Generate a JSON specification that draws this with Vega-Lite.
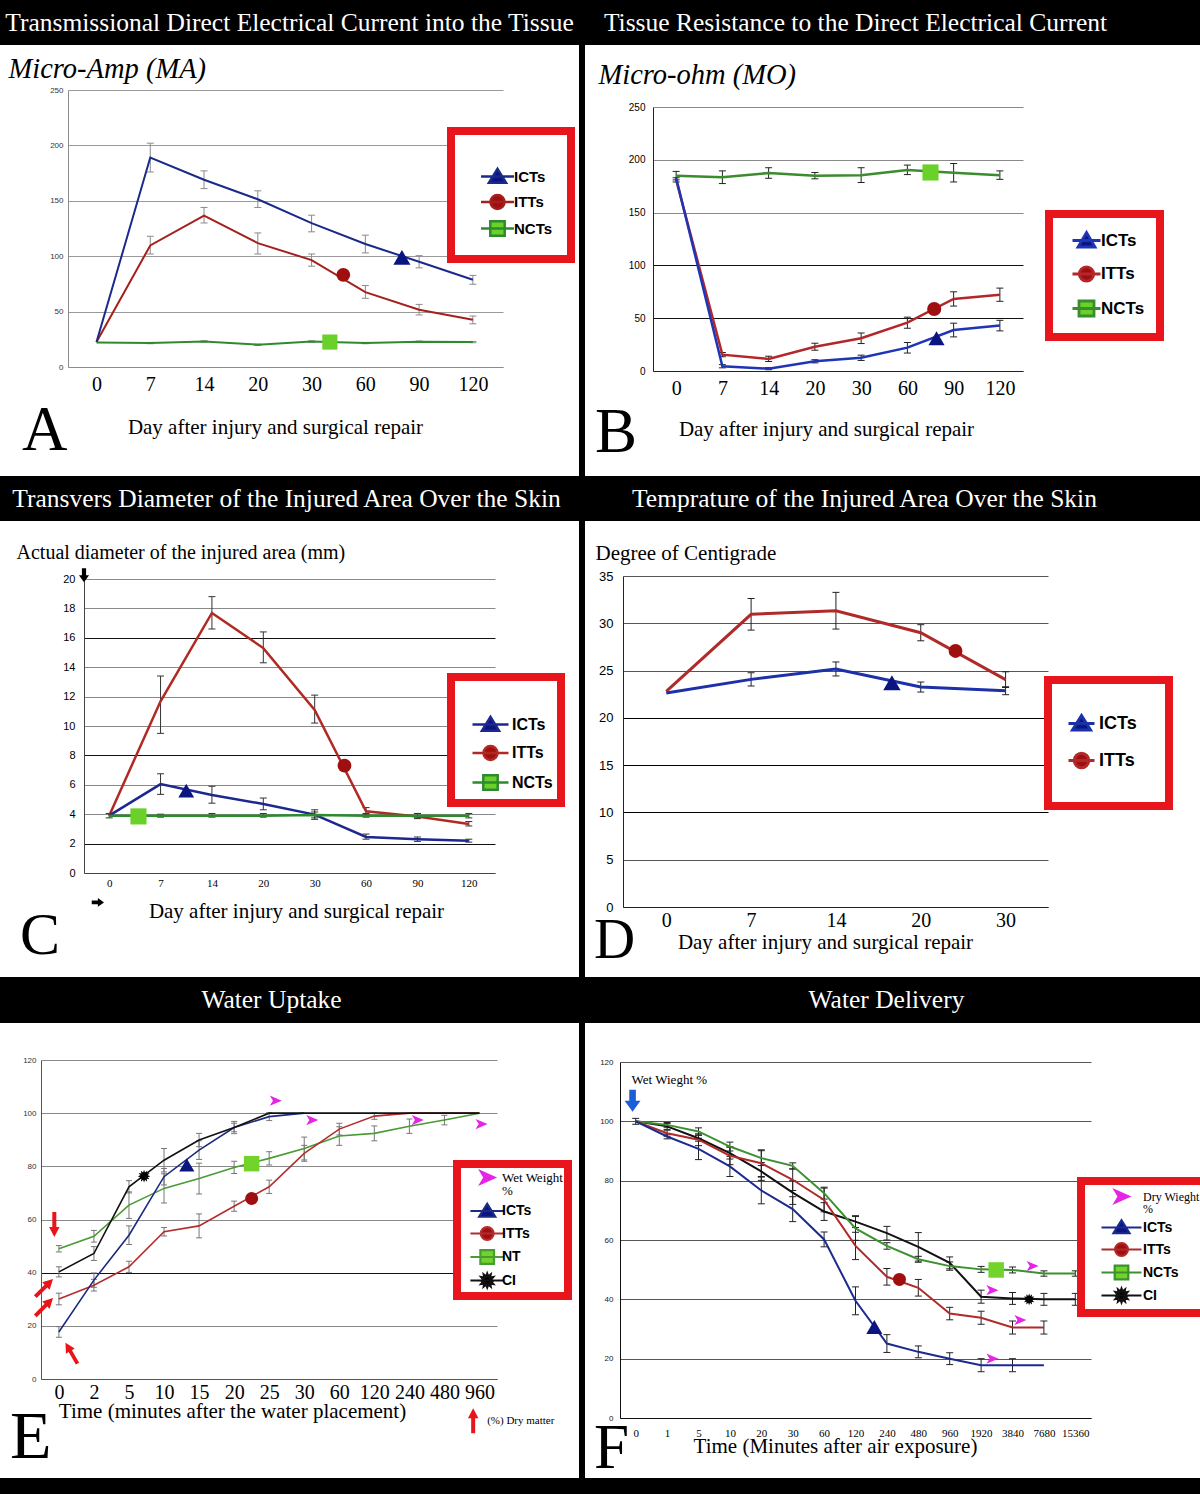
{
"$schema":"https://vega.github.io/schema/vega-lite/v6.json",
"background":"black",
"padding":{"left":0,"top":0,"right":0,"bottom":16},
"config":{"view":{"stroke":null},"axis":{"labelFlush":false,"labelOverlap":false},"legend":{"labelLimit":300}},
"datasets":{
"a":[
{"s":"ICTs","i":0,"v":22.5},{"s":"ICTs","i":1,"v":189,"lo":176,"hi":202},{"s":"ICTs","i":2,"v":169,"lo":161,"hi":177},{"s":"ICTs","i":3,"v":151.4,"lo":144,"hi":159},{"s":"ICTs","i":4,"v":129.8,"lo":122,"hi":137},{"s":"ICTs","i":5,"v":111,"lo":103,"hi":119},{"s":"ICTs","i":6,"v":95,"lo":89.5,"hi":100.5},{"s":"ICTs","i":7,"v":78.7,"lo":74.7,"hi":82.7},
{"s":"ITTs","i":0,"v":22.5},{"s":"ITTs","i":1,"v":109.7,"lo":102,"hi":118},{"s":"ITTs","i":2,"v":136.7,"lo":130,"hi":144},{"s":"ITTs","i":3,"v":111.8,"lo":102,"hi":121},{"s":"ITTs","i":4,"v":96.5,"lo":91,"hi":102},{"s":"ITTs","i":5,"v":67.6,"lo":62,"hi":73.5},{"s":"ITTs","i":6,"v":51.7,"lo":47,"hi":56.5},{"s":"ITTs","i":7,"v":42.7,"lo":39,"hi":46},
{"s":"NCTs","i":0,"v":22},{"s":"NCTs","i":1,"v":21.6,"lo":21,"hi":22.2},{"s":"NCTs","i":2,"v":23.1,"lo":22.5,"hi":23.7},{"s":"NCTs","i":3,"v":20.1,"lo":19.5,"hi":20.7},{"s":"NCTs","i":4,"v":23,"lo":22.4,"hi":23.6},{"s":"NCTs","i":5,"v":21.6,"lo":21,"hi":22.2},{"s":"NCTs","i":6,"v":22.8,"lo":22.2,"hi":23.4},{"s":"NCTs","i":7,"v":22.5,"lo":21.9,"hi":23.1}],
"aM":[{"s":"ICTs","i":5.68,"v":99},{"s":"ITTs","i":4.59,"v":83.2},{"s":"NCTs","i":4.34,"v":22.5}],
"b":[
{"s":"NCTs","i":0,"v":185,"lo":181,"hi":189},{"s":"NCTs","i":1,"v":183.4,"lo":177.5,"hi":189.5},{"s":"NCTs","i":2,"v":187.5,"lo":182.5,"hi":192.5},{"s":"NCTs","i":3,"v":185,"lo":182,"hi":188},{"s":"NCTs","i":4,"v":185.3,"lo":178.5,"hi":192.5},{"s":"NCTs","i":5,"v":190.4,"lo":186,"hi":195},{"s":"NCTs","i":6,"v":187.8,"lo":179,"hi":196.5},{"s":"NCTs","i":7,"v":185.3,"lo":181.5,"hi":189.5},
{"s":"ICTs","i":0,"v":183},{"s":"ICTs","i":1,"v":4.4,"lo":3,"hi":6},{"s":"ICTs","i":2,"v":2.2,"lo":1.2,"hi":3.2},{"s":"ICTs","i":3,"v":9.2,"lo":7.7,"hi":10.7},{"s":"ICTs","i":4,"v":12.6,"lo":10,"hi":15},{"s":"ICTs","i":5,"v":22.1,"lo":17,"hi":27},{"s":"ICTs","i":6,"v":38.8,"lo":32.3,"hi":45.3},{"s":"ICTs","i":7,"v":43,"lo":38,"hi":48},
{"s":"ITTs","i":0,"v":181,"lo":179,"hi":183},{"s":"ITTs","i":1,"v":15.5,"lo":13.5,"hi":17.5},{"s":"ITTs","i":2,"v":11.4,"lo":9,"hi":14},{"s":"ITTs","i":3,"v":23,"lo":19.7,"hi":26.3},{"s":"ITTs","i":4,"v":31,"lo":26,"hi":36},{"s":"ITTs","i":5,"v":45.8,"lo":40.5,"hi":51},{"s":"ITTs","i":6,"v":68.2,"lo":61.5,"hi":75},{"s":"ITTs","i":7,"v":72.3,"lo":66,"hi":78.5}],
"bM":[{"s":"ICTs","i":5.63,"v":31},{"s":"ITTs","i":5.58,"v":58.7},{"s":"NCTs","i":5.5,"v":188}],
"c":[
{"s":"ITTs","i":0,"v":3.9,"lo":3.75,"hi":4.05},{"s":"ITTs","i":1,"v":11.68,"lo":9.5,"hi":13.4},{"s":"ITTs","i":2,"v":17.69,"lo":16.6,"hi":18.8},{"s":"ITTs","i":3,"v":15.3,"lo":14.3,"hi":16.4},{"s":"ITTs","i":4,"v":11.1,"lo":10.2,"hi":12.1},{"s":"ITTs","i":5,"v":4.2,"lo":4.0,"hi":4.45},{"s":"ITTs","i":6,"v":3.85,"lo":3.7,"hi":4.05},{"s":"ITTs","i":7,"v":3.33,"lo":3.2,"hi":3.5},
{"s":"ICTs","i":0,"v":3.9},{"s":"ICTs","i":1,"v":6.05,"lo":5.35,"hi":6.75},{"s":"ICTs","i":2,"v":5.3,"lo":4.75,"hi":5.9},{"s":"ICTs","i":3,"v":4.7,"lo":4.3,"hi":5.1},{"s":"ICTs","i":4,"v":3.97,"lo":3.65,"hi":4.3},{"s":"ICTs","i":5,"v":2.45,"lo":2.3,"hi":2.65},{"s":"ICTs","i":6,"v":2.3,"lo":2.15,"hi":2.45},{"s":"ICTs","i":7,"v":2.2,"lo":2.1,"hi":2.3},
{"s":"NCTs","i":0,"v":3.9},{"s":"NCTs","i":1,"v":3.9,"lo":3.8,"hi":4.0},{"s":"NCTs","i":2,"v":3.9,"lo":3.8,"hi":4.05},{"s":"NCTs","i":3,"v":3.9,"lo":3.8,"hi":4.05},{"s":"NCTs","i":4,"v":3.95,"lo":3.75,"hi":4.15},{"s":"NCTs","i":5,"v":3.9,"lo":3.8,"hi":4.05},{"s":"NCTs","i":6,"v":3.9,"lo":3.75,"hi":4.05},{"s":"NCTs","i":7,"v":3.9,"lo":3.75,"hi":4.05}],
"cM":[{"s":"ICTs","i":1.5,"v":5.6},{"s":"ITTs","i":4.58,"v":7.3},{"s":"NCTs","i":0.57,"v":3.85}],
"cX":[{"k":"d","i":-0.49,"v":20.25},{"k":"r","i":-0.22,"v":-2.0}],
"d":[
{"s":"ICTs","i":0,"v":22.63},{"s":"ICTs","i":1,"v":24.07,"lo":23.37,"hi":24.77},{"s":"ICTs","i":2,"v":25.17,"lo":24.43,"hi":25.91},{"s":"ICTs","i":3,"v":23.26,"lo":22.73,"hi":23.79},{"s":"ICTs","i":4,"v":22.87,"lo":22.45,"hi":23.29},
{"s":"ITTs","i":0,"v":22.8},{"s":"ITTs","i":1,"v":30.95,"lo":29.28,"hi":32.62},{"s":"ITTs","i":2,"v":31.33,"lo":29.39,"hi":33.27},{"s":"ITTs","i":3,"v":29.0,"lo":28.15,"hi":29.85},{"s":"ITTs","i":4,"v":24.04,"lo":23.21,"hi":24.87}],
"dM":[{"s":"ICTs","i":2.66,"v":23.7},{"s":"ITTs","i":3.41,"v":27.07}],
"e":[
{"s":"ICTs","i":0,"v":17.7,"lo":15.7,"hi":19.7},{"s":"ICTs","i":1,"v":37.2,"lo":34.5,"hi":39.9},{"s":"ICTs","i":2,"v":54.1,"lo":50.6,"hi":57.6},{"s":"ICTs","i":3,"v":76.1,"lo":73,"hi":79.2},{"s":"ICTs","i":4,"v":86.1,"lo":82.6,"hi":89.6},{"s":"ICTs","i":5,"v":94.6,"lo":93,"hi":96.2},{"s":"ICTs","i":6,"v":98.7,"lo":97.2,"hi":100.2},{"s":"ICTs","i":7,"v":100},
{"s":"ITTs","i":0,"v":30.1,"lo":27.9,"hi":32.3},{"s":"ITTs","i":1,"v":35.3,"lo":33.1,"hi":37.5},{"s":"ITTs","i":2,"v":42.2,"lo":40.1,"hi":44.3},{"s":"ITTs","i":3,"v":55.4,"lo":53.8,"hi":57},{"s":"ITTs","i":4,"v":57.6,"lo":53.1,"hi":62.1},{"s":"ITTs","i":5,"v":65,"lo":63.1,"hi":66.9},{"s":"ITTs","i":6,"v":72.3,"lo":69.8,"hi":74.8},{"s":"ITTs","i":7,"v":84.9,"lo":81.9,"hi":87.9},{"s":"ITTs","i":8,"v":94,"lo":91.8,"hi":96.2},{"s":"ITTs","i":9,"v":98.9,"lo":97.7,"hi":100.1},{"s":"ITTs","i":10,"v":100},{"s":"ITTs","i":11,"v":100},{"s":"ITTs","i":12,"v":100},
{"s":"NT","i":0,"v":49,"lo":47.8,"hi":50.2},{"s":"NT","i":1,"v":53.7,"lo":51.5,"hi":55.9},{"s":"NT","i":2,"v":65.4,"lo":60.4,"hi":70.4},{"s":"NT","i":3,"v":71.7,"lo":66.2,"hi":77.2},{"s":"NT","i":4,"v":75.4,"lo":69.6,"hi":81.2},{"s":"NT","i":5,"v":79.6,"lo":77.3,"hi":81.9},{"s":"NT","i":6,"v":83,"lo":80.5,"hi":85.5},{"s":"NT","i":7,"v":86.7,"lo":82.4,"hi":91},{"s":"NT","i":8,"v":91.4,"lo":87.9,"hi":94.9},{"s":"NT","i":9,"v":92.4,"lo":89.6,"hi":95.2},{"s":"NT","i":10,"v":95.1,"lo":92.4,"hi":97.8},{"s":"NT","i":11,"v":97.4,"lo":95.6,"hi":99.2},{"s":"NT","i":12,"v":100},
{"s":"CI","i":0,"v":40.3,"lo":38.4,"hi":42.2},{"s":"CI","i":1,"v":47.2,"lo":44.6,"hi":49.8},{"s":"CI","i":2,"v":72.3,"lo":70,"hi":74.6},{"s":"CI","i":3,"v":82.3,"lo":77.9,"hi":86.7},{"s":"CI","i":4,"v":89.9,"lo":87.4,"hi":92.4},{"s":"CI","i":5,"v":94.6,"lo":92.3,"hi":96.9},{"s":"CI","i":6,"v":100},{"s":"CI","i":7,"v":100},{"s":"CI","i":8,"v":100},{"s":"CI","i":9,"v":100},{"s":"CI","i":10,"v":100},{"s":"CI","i":11,"v":100},{"s":"CI","i":12,"v":100}],
"eM":[{"s":"ICTs","i":3.65,"v":80.5},{"s":"ITTs","i":5.5,"v":67.9},{"s":"NT","i":5.5,"v":81},{"s":"CI","i":2.43,"v":76.3}],
"eP":[{"i":6.18,"v":104.7},{"i":7.22,"v":97.4},{"i":10.23,"v":97.4},{"i":12.05,"v":95.9}],
"eX":[{"k":"d","i":-0.13,"v":58.1},{"k":"ur","i":-0.42,"v":34.3},{"k":"ur","i":-0.42,"v":27.1},{"k":"ul","i":0.36,"v":9.7},{"k":"u","i":11.82,"v":-15.7}],
"eT":[{"t":"(%) Dry matter","i":12.22,"v":-15.7}],
"f":[
{"s":"ICTs","i":0,"v":100,"lo":99,"hi":101},{"s":"ICTs","i":1,"v":94.9,"lo":94.1,"hi":95.7},{"s":"ICTs","i":2,"v":90.7,"lo":87.1,"hi":94.3},{"s":"ICTs","i":3,"v":84.8,"lo":81.4,"hi":88.2},{"s":"ICTs","i":4,"v":76.7,"lo":72.2,"hi":81.2},{"s":"ICTs","i":5,"v":70.4,"lo":66.2,"hi":74.6},{"s":"ICTs","i":6,"v":60.2,"lo":57.7,"hi":62.7},{"s":"ICTs","i":7,"v":39.5,"lo":34.8,"hi":44.2},{"s":"ICTs","i":8,"v":25.1,"lo":22.1,"hi":28.1},{"s":"ICTs","i":9,"v":22.3,"lo":20.3,"hi":24.3},{"s":"ICTs","i":10,"v":20,"lo":18,"hi":22},{"s":"ICTs","i":11,"v":17.8,"lo":15.6,"hi":20},{"s":"ICTs","i":12,"v":17.8,"lo":15.6,"hi":20},{"s":"ICTs","i":13,"v":17.8},
{"s":"ITTs","i":0,"v":100},{"s":"ITTs","i":1,"v":96,"lo":95,"hi":97},{"s":"ITTs","i":2,"v":93.8,"lo":91.8,"hi":95.8},{"s":"ITTs","i":3,"v":88.4,"lo":85.4,"hi":91.4},{"s":"ITTs","i":4,"v":85.9,"lo":81.4,"hi":90.4},{"s":"ITTs","i":5,"v":80.3,"lo":76.7,"hi":83.9},{"s":"ITTs","i":6,"v":73.5,"lo":69.5,"hi":77.5},{"s":"ITTs","i":7,"v":58,"lo":53.4,"hi":62.6},{"s":"ITTs","i":8,"v":47.6,"lo":44.8,"hi":50.4},{"s":"ITTs","i":9,"v":43.9,"lo":41.1,"hi":46.7},{"s":"ITTs","i":10,"v":35.2,"lo":33.1,"hi":37.3},{"s":"ITTs","i":11,"v":33.8,"lo":31.6,"hi":36},{"s":"ITTs","i":12,"v":30.5,"lo":28.3,"hi":32.7},{"s":"ITTs","i":13,"v":30.5,"lo":28.3,"hi":32.7},
{"s":"NCTs","i":0,"v":100},{"s":"NCTs","i":1,"v":98.8,"lo":98,"hi":99.6},{"s":"NCTs","i":2,"v":96.6,"lo":95.4,"hi":97.8},{"s":"NCTs","i":3,"v":91.5,"lo":90,"hi":93},{"s":"NCTs","i":4,"v":87.6,"lo":85.1,"hi":90.1},{"s":"NCTs","i":5,"v":85,"lo":84,"hi":86},{"s":"NCTs","i":6,"v":75.8,"lo":73.8,"hi":77.8},{"s":"NCTs","i":7,"v":63.9,"lo":59.9,"hi":67.9},{"s":"NCTs","i":8,"v":58,"lo":56.9,"hi":59.1},{"s":"NCTs","i":9,"v":53.5,"lo":52.5,"hi":54.5},{"s":"NCTs","i":10,"v":51.2,"lo":49.8,"hi":52.6},{"s":"NCTs","i":11,"v":50.1,"lo":49.1,"hi":51.1},{"s":"NCTs","i":12,"v":49.9,"lo":48.9,"hi":50.9},{"s":"NCTs","i":13,"v":48.7,"lo":47.8,"hi":49.6},{"s":"NCTs","i":14,"v":48.7,"lo":47.8,"hi":49.6},
{"s":"CI","i":0,"v":100},{"s":"CI","i":1,"v":98.3,"lo":97.3,"hi":99.3},{"s":"CI","i":2,"v":94.3,"lo":93.3,"hi":95.3},{"s":"CI","i":3,"v":89.3,"lo":87.3,"hi":91.3},{"s":"CI","i":4,"v":83.1,"lo":80.1,"hi":86.1},{"s":"CI","i":5,"v":76,"lo":72,"hi":80},{"s":"CI","i":6,"v":69.6,"lo":66.6,"hi":72.6},{"s":"CI","i":7,"v":66.2,"lo":64.2,"hi":68.2},{"s":"CI","i":8,"v":62.3,"lo":60,"hi":64.6},{"s":"CI","i":9,"v":57.7,"lo":52.9,"hi":62.5},{"s":"CI","i":10,"v":52.3,"lo":50.3,"hi":54.3},{"s":"CI","i":11,"v":40.9,"lo":38.7,"hi":43.1},{"s":"CI","i":12,"v":40.3,"lo":38.3,"hi":42.3},{"s":"CI","i":13,"v":40,"lo":38,"hi":42},{"s":"CI","i":14,"v":40,"lo":38,"hi":42}],
"fM":[{"s":"ICTs","i":7.6,"v":30.7},{"s":"ITTs","i":8.4,"v":46.7},{"s":"NCTs","i":11.48,"v":49.9},{"s":"CI","i":12.53,"v":40}],
"fP":[{"i":11.35,"v":43.1},{"i":12.63,"v":51.2},{"i":12.24,"v":33},{"i":11.35,"v":20}],
"fX":[{"k":"d","i":-0.1,"v":106.9}],
"fT":[{"t":"Wet Wieght %","i":-0.13,"v":114}]
},
"spacing":6,
"resolve":{"scale":{"fill":"independent","stroke":"independent","shape":"independent"}},
"hconcat":[
{"spacing":0,"resolve":{"scale":{"fill":"independent","stroke":"independent","shape":"independent"}},"vconcat":[
{"width":579,"height":45,"view":{"fill":"black","stroke":null},"data":{"values":[{"t":"Transmissional Direct Electrical Current  into the Tissue"}]},"mark":{"type":"text","color":"white","font":"Liberation Serif","fontSize":25.5},"encoding":{"text":{"field":"t","type":"nominal"}}},
{"width":579,"height":431,"view":{"fill":"white","stroke":null},
"title":{"text":"A","orient":"bottom","anchor":"start","frame":"group","offset":-26,"dx":22,"baseline":"alphabetic","font":"Liberation Serif","fontSize":63,"fontWeight":"normal","color":"black"},
"encoding":{
"x":{"field":"i","type":"quantitative","scale":{"domain":[-0.53,7.56],"range":[68,503],"nice":false,"zero":false},"axis":{"offset":-109,"values":[0,1,2,3,4,5,6,7],"labelExpr":"['0','7','14','20','30','60','90','120'][datum.value]","grid":false,"ticks":false,"domainColor":"#8c8c8c","labelFont":"Liberation Serif","labelFontSize":20,"labelColor":"black","labelPadding":7,"title":"Day after injury and surgical repair","titleFont":"Liberation Serif","titleFontSize":21,"titleFontWeight":"normal","titleColor":"black","titleX":275,"titleY":60,"titleAlign":"center","titleBaseline":"middle"}},
"y":{"field":"v","type":"quantitative","scale":{"domain":[0,250],"range":[322,45],"nice":false,"zero":false},"axis":{"offset":-68,"values":[0,50,100,150,200,250],"grid":true,"gridColor":"#9a9a9a","ticks":false,"domainColor":"#8c8c8c","labelFont":"Liberation Sans","labelFontSize":8,"labelColor":"#333","labelPadding":5,"title":"Micro-Amp (MA)","titleFont":"Liberation Serif","titleFontStyle":"italic","titleFontSize":28.5,"titleFontWeight":"normal","titleColor":"black","titleAngle":0,"titleAlign":"left","titleBaseline":"middle","titleX":-60,"titleY":23}}},
"layer":[
{"data":{"name":"a"},"mark":{"type":"rule","color":"#8a8a8a","strokeWidth":1},"encoding":{"y":{"field":"lo","type":"quantitative"},"y2":{"field":"hi"}}},
{"data":{"name":"a"},"mark":{"type":"tick","orient":"horizontal","size":7,"thickness":1,"color":"#8a8a8a","opacity":1},"encoding":{"y":{"field":"lo","type":"quantitative"}}},
{"data":{"name":"a"},"mark":{"type":"tick","orient":"horizontal","size":7,"thickness":1,"color":"#8a8a8a","opacity":1},"encoding":{"y":{"field":"hi","type":"quantitative"}}},
{"data":{"name":"a"},"transform":[{"filter":"datum.s === 'NCTs'"}],"mark":{"type":"line","strokeWidth":2,"color":"#2f8a2f"}},
{"data":{"name":"a"},"transform":[{"filter":"datum.s === 'ITTs'"}],"mark":{"type":"line","strokeWidth":2,"color":"#a3201c"}},
{"data":{"name":"a"},"transform":[{"filter":"datum.s === 'ICTs'"}],"mark":{"type":"line","strokeWidth":2,"color":"#1a2a8a"}},
{"data":{"name":"aM"},"transform":[{"filter":"datum.v < -999"}],"mark":{"type":"point","filled":true,"opacity":1,"size":324,"strokeWidth":2.5},
"encoding":{
"fill":{"field":"s","type":"nominal","scale":{"domain":["ICTs","ITTs","NCTs"],"range":["#0a1580","#a00f0f","#6ad12a"]},"legend":{"orient":"none","legendX":451,"legendY":86,"title":" ","titleFontSize":17,"titlePadding":0,"fillColor":"white","strokeColor":"#e8161c","padding":18,"rowPadding":1.5,"symbolSize":324,"symbolStrokeWidth":2.5,"symbolOffset":18,"labelOffset":6,"labelFont":"Liberation Sans","labelFontWeight":"bold","labelFontSize":15,"labelColor":"black","encoding":{"legend":{"strokeWidth":{"value":8}}}}},
"stroke":{"field":"s","type":"nominal","scale":{"domain":["ICTs","ITTs","NCTs"],"range":["#1a2a8a","#a3201c","#2f8a2f"]},"legend":{"orient":"none","legendX":451,"legendY":86,"title":" ","titleFontSize":17,"titlePadding":0,"fillColor":"white","strokeColor":"#e8161c","padding":18,"rowPadding":1.5,"symbolSize":324,"symbolStrokeWidth":2.5,"symbolOffset":18,"labelOffset":6,"labelFont":"Liberation Sans","labelFontWeight":"bold","labelFontSize":15,"labelColor":"black","encoding":{"legend":{"strokeWidth":{"value":8}}}}},
"shape":{"field":"s","type":"nominal","scale":{"domain":["ICTs","ITTs","NCTs"],"range":["M-1.83,0H1.83M0,-0.85L0.95,0.7L-0.95,0.7Z","M-1.83,0H1.83M0.78,0A0.78,0.78,0,1,1,-0.78,0A0.78,0.78,0,1,1,0.78,0Z","M-1.83,0H1.83M-0.8,-0.8H0.8V0.8H-0.8Z"]},"legend":{"orient":"none","legendX":451,"legendY":86,"title":" ","titleFontSize":17,"titlePadding":0,"fillColor":"white","strokeColor":"#e8161c","padding":18,"rowPadding":1.5,"symbolSize":324,"symbolStrokeWidth":2.5,"symbolOffset":18,"labelOffset":6,"labelFont":"Liberation Sans","labelFontWeight":"bold","labelFontSize":15,"labelColor":"black","encoding":{"legend":{"strokeWidth":{"value":8}}}}}}},
{"data":{"name":"aM"},"transform":[{"filter":"datum.s === 'ICTs'"}],"mark":{"type":"point","shape":"triangle-up","filled":true,"size":290,"color":"#0a1580","opacity":1}},
{"data":{"name":"aM"},"transform":[{"filter":"datum.s === 'ITTs'"}],"mark":{"type":"point","shape":"circle","filled":true,"size":190,"color":"#a00f0f","opacity":1}},
{"data":{"name":"aM"},"transform":[{"filter":"datum.s === 'NCTs'"}],"mark":{"type":"point","shape":"square","filled":true,"size":230,"color":"#6ad12a","opacity":1}}
]},
{"width":579,"height":45,"view":{"fill":"black","stroke":null},"data":{"values":[{"t":"Transvers Diameter of the Injured Area Over the Skin"}]},"mark":{"type":"text","color":"white","font":"Liberation Serif","fontSize":25.5,"dx":-3},"encoding":{"text":{"field":"t","type":"nominal"}}},
{"width":579,"height":456,"view":{"fill":"white","stroke":null},
"title":{"text":"C","orient":"bottom","anchor":"start","frame":"group","offset":-23,"dx":20,"baseline":"alphabetic","font":"Liberation Serif","fontSize":60,"fontWeight":"normal","color":"black"},
"encoding":{
"x":{"field":"i","type":"quantitative","scale":{"domain":[-0.49,7.51],"range":[84,495],"nice":false,"zero":false},"axis":{"offset":-104,"values":[0,1,2,3,4,5,6,7],"labelExpr":"['0','7','14','20','30','60','90','120'][datum.value]","grid":false,"ticks":false,"domainColor":"#444","labelFont":"Liberation Serif","labelFontSize":11,"labelColor":"black","labelPadding":4,"title":"Day after injury and surgical repair","titleFont":"Liberation Serif","titleFontSize":21,"titleFontWeight":"normal","titleColor":"black","titleX":296,"titleY":38,"titleAlign":"center","titleBaseline":"middle"}},
"y":{"field":"v","type":"quantitative","scale":{"domain":[0,20],"range":[352,58],"nice":false,"zero":false},"axis":{"offset":-84,"values":[0,2,4,6,8,10,12,14,16,18,20],"grid":true,"gridColor":{"condition":{"test":"datum.value === 16 || datum.value === 8 || datum.value === 2","value":"#111"},"value":"#8a8a8a"},"ticks":false,"domainColor":"#444","labelFont":"Liberation Sans","labelFontSize":11,"labelColor":"black","labelPadding":9,"title":"Actual diameter of the injured area (mm)","titleFont":"Liberation Serif","titleFontSize":20,"titleFontWeight":"normal","titleColor":"black","titleAngle":0,"titleAlign":"left","titleBaseline":"middle","titleX":-68,"titleY":31}}},
"layer":[
{"data":{"name":"c"},"mark":{"type":"rule","color":"#333","strokeWidth":1},"encoding":{"y":{"field":"lo","type":"quantitative"},"y2":{"field":"hi"}}},
{"data":{"name":"c"},"mark":{"type":"tick","orient":"horizontal","size":7,"thickness":1,"color":"#333","opacity":1},"encoding":{"y":{"field":"lo","type":"quantitative"}}},
{"data":{"name":"c"},"mark":{"type":"tick","orient":"horizontal","size":7,"thickness":1,"color":"#333","opacity":1},"encoding":{"y":{"field":"hi","type":"quantitative"}}},
{"data":{"name":"c"},"transform":[{"filter":"datum.s === 'ITTs'"}],"mark":{"type":"line","strokeWidth":2.5,"color":"#b02a24"}},
{"data":{"name":"c"},"transform":[{"filter":"datum.s === 'ICTs'"}],"mark":{"type":"line","strokeWidth":2.5,"color":"#1c2790"}},
{"data":{"name":"c"},"transform":[{"filter":"datum.s === 'NCTs'"}],"mark":{"type":"line","strokeWidth":2.5,"color":"#2e8a2e"}},
{"data":{"name":"cM"},"transform":[{"filter":"datum.v < -999"}],"mark":{"type":"point","filled":true,"opacity":1,"size":324,"strokeWidth":2.5},
"encoding":{
"fill":{"field":"s","type":"nominal","scale":{"domain":["ICTs","ITTs","NCTs"],"range":["#0a1580","#a00f0f","#6ad12a"]},"legend":{"orient":"none","legendX":451,"legendY":156,"title":" ","titleFontSize":29,"titlePadding":0,"fillColor":"white","strokeColor":"#e8161c","padding":8,"rowPadding":4.5,"symbolSize":324,"symbolStrokeWidth":2.5,"symbolOffset":21,"labelOffset":11,"labelFont":"Liberation Sans","labelFontWeight":"bold","labelFontSize":16,"labelColor":"black","encoding":{"legend":{"strokeWidth":{"value":8}}}}},
"stroke":{"field":"s","type":"nominal","scale":{"domain":["ICTs","ITTs","NCTs"],"range":["#1c2790","#b02a24","#2e8a2e"]},"legend":{"orient":"none","legendX":451,"legendY":156,"title":" ","titleFontSize":29,"titlePadding":0,"fillColor":"white","strokeColor":"#e8161c","padding":8,"rowPadding":4.5,"symbolSize":324,"symbolStrokeWidth":2.5,"symbolOffset":21,"labelOffset":11,"labelFont":"Liberation Sans","labelFontWeight":"bold","labelFontSize":16,"labelColor":"black","encoding":{"legend":{"strokeWidth":{"value":8}}}}},
"shape":{"field":"s","type":"nominal","scale":{"domain":["ICTs","ITTs","NCTs"],"range":["M-2,0H2M0,-0.85L0.95,0.7L-0.95,0.7Z","M-2,0H2M0.78,0A0.78,0.78,0,1,1,-0.78,0A0.78,0.78,0,1,1,0.78,0Z","M-2,0H2M-0.8,-0.8H0.8V0.8H-0.8Z"]},"legend":{"orient":"none","legendX":451,"legendY":156,"title":" ","titleFontSize":29,"titlePadding":0,"fillColor":"white","strokeColor":"#e8161c","padding":8,"rowPadding":4.5,"symbolSize":324,"symbolStrokeWidth":2.5,"symbolOffset":21,"labelOffset":11,"labelFont":"Liberation Sans","labelFontWeight":"bold","labelFontSize":16,"labelColor":"black","encoding":{"legend":{"strokeWidth":{"value":8}}}}}}},
{"data":{"name":"cM"},"transform":[{"filter":"datum.s === 'ICTs'"}],"mark":{"type":"point","shape":"triangle-up","filled":true,"size":250,"color":"#0a1580","opacity":1}},
{"data":{"name":"cM"},"transform":[{"filter":"datum.s === 'ITTs'"}],"mark":{"type":"point","shape":"circle","filled":true,"size":190,"color":"#a00f0f","opacity":1}},
{"data":{"name":"cM"},"transform":[{"filter":"datum.s === 'NCTs'"}],"mark":{"type":"point","shape":"square","filled":true,"size":260,"color":"#6ad12a","opacity":1}},
{"data":{"name":"cX"},"transform":[{"filter":"datum.k === 'd'"}],"mark":{"type":"point","shape":"M-0.3,1H0.3V0H0.72L0,-1L-0.72,0H-0.3Z","filled":true,"size":196,"angle":180,"color":"black","opacity":1}},
{"data":{"name":"cX"},"transform":[{"filter":"datum.k === 'r'"}],"mark":{"type":"point","shape":"M-0.3,1H0.3V0H0.72L0,-1L-0.72,0H-0.3Z","filled":true,"size":150,"angle":90,"color":"black","opacity":1}}
]},
{"width":579,"height":46,"view":{"fill":"black","stroke":null},"data":{"values":[{"t":"Water Uptake"}]},"mark":{"type":"text","color":"white","font":"Liberation Serif","fontSize":25.5,"dx":-18},"encoding":{"text":{"field":"t","type":"nominal"}}},
{"width":579,"height":455,"view":{"fill":"white","stroke":null},
"title":{"text":"E","orient":"bottom","anchor":"start","frame":"group","offset":-20,"dx":10,"baseline":"alphabetic","font":"Liberation Serif","fontSize":68,"fontWeight":"normal","color":"black"},
"encoding":{
"x":{"field":"i","type":"quantitative","scale":{"domain":[-0.51,12.5],"range":[41,497],"nice":false,"zero":false},"axis":{"offset":-99,"values":[0,1,2,3,4,5,6,7,8,9,10,11,12],"labelExpr":"['0','2','5','10','15','20','25','30','60','120','240','480','960'][datum.value]","grid":false,"ticks":false,"domainColor":"#555","labelFont":"Liberation Serif","labelFontSize":20,"labelColor":"black","labelPadding":3,"title":"Time (minutes after the water placement)","titleFont":"Liberation Serif","titleFontSize":21,"titleFontWeight":"normal","titleColor":"black","titleX":232,"titleY":32,"titleAlign":"center","titleBaseline":"middle"}},
"y":{"field":"v","type":"quantitative","scale":{"domain":[0,120],"range":[356,37],"nice":false,"zero":false},"axis":{"offset":-41,"values":[0,20,40,60,80,100,120],"grid":true,"gridColor":{"condition":{"test":"datum.value === 40","value":"#111"},"value":"#8a8a8a"},"ticks":false,"domainColor":"#555","labelFont":"Liberation Sans","labelFontSize":8,"labelColor":"#333","labelPadding":5,"title":null}}},
"layer":[
{"data":{"name":"e"},"mark":{"type":"rule","color":"#777","strokeWidth":1},"encoding":{"y":{"field":"lo","type":"quantitative"},"y2":{"field":"hi"}}},
{"data":{"name":"e"},"mark":{"type":"tick","orient":"horizontal","size":6,"thickness":1,"color":"#777","opacity":1},"encoding":{"y":{"field":"lo","type":"quantitative"}}},
{"data":{"name":"e"},"mark":{"type":"tick","orient":"horizontal","size":6,"thickness":1,"color":"#777","opacity":1},"encoding":{"y":{"field":"hi","type":"quantitative"}}},
{"data":{"name":"e"},"transform":[{"filter":"datum.s === 'NT'"}],"mark":{"type":"line","strokeWidth":1.6,"color":"#4a9a35"}},
{"data":{"name":"e"},"transform":[{"filter":"datum.s === 'ITTs'"}],"mark":{"type":"line","strokeWidth":1.6,"color":"#b22e2e"}},
{"data":{"name":"e"},"transform":[{"filter":"datum.s === 'ICTs'"}],"mark":{"type":"line","strokeWidth":1.6,"color":"#1c2a80"}},
{"data":{"name":"e"},"transform":[{"filter":"datum.s === 'CI'"}],"mark":{"type":"line","strokeWidth":1.6,"color":"#111111"}},
{"data":{"name":"eM"},"transform":[{"filter":"datum.v < -999"}],"mark":{"type":"point","filled":true,"opacity":1,"size":256,"strokeWidth":2.5},
"encoding":{
"fill":{"field":"s","type":"nominal","scale":{"domain":["Wet Weight","ICTs","ITTs","NT","CI"],"range":["#e624e6","#0a1580","#a00f0f","#72d42a","#000000"]},"legend":{"orient":"none","legendX":457,"legendY":141,"title":null,"fillColor":"white","strokeColor":"#e8161c","padding":4,"rowPadding":0.5,"symbolSize":256,"symbolStrokeWidth":2.2,"symbolOffset":16.7,"labelOffset":5.3,"labelFont":"Liberation Sans","labelFontWeight":"bold","labelFontSize":14,"labelColor":"black","labelExpr":"datum.value === 'Wet Weight' ? ['Wet Weight', '%'] : datum.label","encoding":{"legend":{"strokeWidth":{"value":8}},"labels":{"lineHeight":{"value":13},"font":{"condition":{"test":"datum.value === 'Wet Weight'","value":"Liberation Serif"},"value":"Liberation Sans"},"fontWeight":{"condition":{"test":"datum.value === 'Wet Weight'","value":"normal"},"value":"bold"},"fontSize":{"condition":{"test":"datum.value === 'Wet Weight'","value":13},"value":14}}}}},
"stroke":{"field":"s","type":"nominal","scale":{"domain":["Wet Weight","ICTs","ITTs","NT","CI"],"range":["#e624e6","#1c2a80","#b22e2e","#4a9a35","#111111"]},"legend":{"orient":"none","legendX":457,"legendY":141,"title":null,"fillColor":"white","strokeColor":"#e8161c","padding":4,"rowPadding":0.5,"symbolSize":256,"symbolStrokeWidth":2.2,"symbolOffset":16.7,"labelOffset":5.3,"labelFont":"Liberation Sans","labelFontWeight":"bold","labelFontSize":14,"labelColor":"black","labelExpr":"datum.value === 'Wet Weight' ? ['Wet Weight', '%'] : datum.label","encoding":{"legend":{"strokeWidth":{"value":8}},"labels":{"lineHeight":{"value":13},"font":{"condition":{"test":"datum.value === 'Wet Weight'","value":"Liberation Serif"},"value":"Liberation Sans"},"fontWeight":{"condition":{"test":"datum.value === 'Wet Weight'","value":"normal"},"value":"bold"},"fontSize":{"condition":{"test":"datum.value === 'Wet Weight'","value":13},"value":14}}}}},
"shape":{"field":"s","type":"nominal","scale":{"domain":["Wet Weight","ICTs","ITTs","NT","CI"],"range":["M0.9,0L-0.8,-0.75L-0.35,0L-0.8,0.75Z","M-2.1,0H2.1M0,-0.9L1,0.72L-1,0.72Z","M-2.1,0H2.1M0.8,0A0.8,0.8,0,1,1,-0.8,0A0.8,0.8,0,1,1,0.8,0Z","M-2.1,0H2.1M-0.85,-0.85H0.85V0.85H-0.85Z","M-2.1,0H2.1M0,-0.85L0.13,-0.49L0.43,-0.74L0.36,-0.36L0.74,-0.43L0.49,-0.13L0.85,0L0.49,0.13L0.74,0.43L0.36,0.36L0.43,0.74L0.13,0.49L0,0.85L-0.13,0.49L-0.43,0.74L-0.36,0.36L-0.74,0.43L-0.49,0.13L-0.85,0L-0.49,-0.13L-0.74,-0.43L-0.36,-0.36L-0.43,-0.74L-0.13,-0.49Z"]},"legend":{"orient":"none","legendX":457,"legendY":141,"title":null,"fillColor":"white","strokeColor":"#e8161c","padding":4,"rowPadding":0.5,"symbolSize":256,"symbolStrokeWidth":2.2,"symbolOffset":16.7,"labelOffset":5.3,"labelFont":"Liberation Sans","labelFontWeight":"bold","labelFontSize":14,"labelColor":"black","labelExpr":"datum.value === 'Wet Weight' ? ['Wet Weight', '%'] : datum.label","encoding":{"legend":{"strokeWidth":{"value":8}},"labels":{"lineHeight":{"value":13},"font":{"condition":{"test":"datum.value === 'Wet Weight'","value":"Liberation Serif"},"value":"Liberation Sans"},"fontWeight":{"condition":{"test":"datum.value === 'Wet Weight'","value":"normal"},"value":"bold"},"fontSize":{"condition":{"test":"datum.value === 'Wet Weight'","value":13},"value":14}}}}}}},
{"data":{"name":"eM"},"transform":[{"filter":"datum.s === 'ICTs'"}],"mark":{"type":"point","shape":"triangle-up","filled":true,"size":230,"color":"#0a1580","opacity":1}},
{"data":{"name":"eM"},"transform":[{"filter":"datum.s === 'ITTs'"}],"mark":{"type":"point","shape":"circle","filled":true,"size":170,"color":"#a00f0f","opacity":1}},
{"data":{"name":"eM"},"transform":[{"filter":"datum.s === 'NT'"}],"mark":{"type":"point","shape":"square","filled":true,"size":240,"color":"#72d42a","opacity":1}},
{"data":{"name":"eM"},"transform":[{"filter":"datum.s === 'CI'"}],"mark":{"type":"point","shape":"M0,-1L0.155,-0.58L0.5,-0.866L0.424,-0.424L0.866,-0.5L0.58,-0.155L1,0L0.58,0.155L0.866,0.5L0.424,0.424L0.5,0.866L0.155,0.58L0,1L-0.155,0.58L-0.5,0.866L-0.424,0.424L-0.866,0.5L-0.58,0.155L-1,0L-0.58,-0.155L-0.866,-0.5L-0.424,-0.424L-0.5,-0.866L-0.155,-0.58Z","filled":true,"size":160,"color":"#000000","opacity":1}},
{"data":{"name":"eP"},"mark":{"type":"point","shape":"M1,0L-0.9,-0.8L-0.4,0L-0.9,0.8Z","filled":true,"size":160,"color":"#e624e6","opacity":1}},
{"data":{"name":"eX"},"transform":[{"filter":"datum.k === 'd'"}],"mark":{"type":"point","shape":"M-0.16,1H0.16V-0.2H0.42L0,-1L-0.42,-0.2H-0.16Z","filled":true,"size":625,"angle":180,"color":"#e8141a","opacity":1}},
{"data":{"name":"eX"},"transform":[{"filter":"datum.k === 'ur'"}],"mark":{"type":"point","shape":"M-0.16,1H0.16V-0.2H0.42L0,-1L-0.42,-0.2H-0.16Z","filled":true,"size":625,"angle":45,"color":"#e8141a","opacity":1}},
{"data":{"name":"eX"},"transform":[{"filter":"datum.k === 'ul'"}],"mark":{"type":"point","shape":"M-0.16,1H0.16V-0.2H0.42L0,-1L-0.42,-0.2H-0.16Z","filled":true,"size":576,"angle":330,"color":"#e8141a","opacity":1}},
{"data":{"name":"eX"},"transform":[{"filter":"datum.k === 'u'"}],"mark":{"type":"point","shape":"M-0.16,1H0.16V-0.2H0.42L0,-1L-0.42,-0.2H-0.16Z","filled":true,"size":625,"angle":0,"color":"#e8141a","opacity":1}},
{"data":{"name":"eT"},"mark":{"type":"text","align":"left","baseline":"middle","font":"Liberation Serif","fontSize":11,"color":"black"},"encoding":{"text":{"field":"t","type":"nominal"}}}
]}
]},
{"spacing":0,"resolve":{"scale":{"fill":"independent","stroke":"independent","shape":"independent"}},"vconcat":[
{"width":615,"height":45,"view":{"fill":"black","stroke":null},"data":{"values":[{"t":"Tissue Resistance to the Direct Electrical Current"}]},"mark":{"type":"text","color":"white","font":"Liberation Serif","fontSize":25.5,"dx":-37},"encoding":{"text":{"field":"t","type":"nominal"}}},
{"width":615,"height":431,"view":{"fill":"white","stroke":null},
"title":{"text":"B","orient":"bottom","anchor":"start","frame":"group","offset":-24,"dx":10,"baseline":"alphabetic","font":"Liberation Serif","fontSize":63,"fontWeight":"normal","color":"black"},
"encoding":{
"x":{"field":"i","type":"quantitative","scale":{"domain":[-0.5,7.5],"range":[68,438],"nice":false,"zero":false},"axis":{"offset":-105,"values":[0,1,2,3,4,5,6,7],"labelExpr":"['0','7','14','20','30','60','90','120'][datum.value]","grid":false,"ticks":false,"domainColor":"#222","labelFont":"Liberation Serif","labelFontSize":20,"labelColor":"black","labelPadding":7,"title":"Day after injury and surgical repair","titleFont":"Liberation Serif","titleFontSize":21,"titleFontWeight":"normal","titleColor":"black","titleX":241,"titleY":58,"titleAlign":"center","titleBaseline":"middle"}},
"y":{"field":"v","type":"quantitative","scale":{"domain":[0,250],"range":[326,62],"nice":false,"zero":false},"axis":{"offset":-68,"values":[0,50,100,150,200,250],"grid":true,"gridColor":{"condition":{"test":"datum.value === 100 || datum.value === 50","value":"#111"},"value":"#8a8a8a"},"ticks":false,"domainColor":"#222","labelFont":"Liberation Sans","labelFontSize":10,"labelColor":"black","labelPadding":8,"title":"Micro-ohm (MO)","titleFont":"Liberation Serif","titleFontStyle":"italic","titleFontSize":28.5,"titleFontWeight":"normal","titleColor":"black","titleAngle":0,"titleAlign":"left","titleBaseline":"middle","titleX":-55,"titleY":29}}},
"layer":[
{"data":{"name":"b"},"mark":{"type":"rule","color":"#222","strokeWidth":1},"encoding":{"y":{"field":"lo","type":"quantitative"},"y2":{"field":"hi"}}},
{"data":{"name":"b"},"mark":{"type":"tick","orient":"horizontal","size":7,"thickness":1,"color":"#222","opacity":1},"encoding":{"y":{"field":"lo","type":"quantitative"}}},
{"data":{"name":"b"},"mark":{"type":"tick","orient":"horizontal","size":7,"thickness":1,"color":"#222","opacity":1},"encoding":{"y":{"field":"hi","type":"quantitative"}}},
{"data":{"name":"b"},"transform":[{"filter":"datum.s === 'NCTs'"}],"mark":{"type":"line","strokeWidth":2.5,"color":"#3a8c2c"}},
{"data":{"name":"b"},"transform":[{"filter":"datum.s === 'ITTs'"}],"mark":{"type":"line","strokeWidth":2.5,"color":"#b3262a"}},
{"data":{"name":"b"},"transform":[{"filter":"datum.s === 'ICTs'"}],"mark":{"type":"line","strokeWidth":2.5,"color":"#1f35b5"}},
{"data":{"name":"bM"},"transform":[{"filter":"datum.v < -999"}],"mark":{"type":"point","filled":true,"opacity":1,"size":400,"strokeWidth":2.5},
"encoding":{
"fill":{"field":"s","type":"nominal","scale":{"domain":["ICTs","ITTs","NCTs"],"range":["#0a1580","#a00f0f","#6ad12a"]},"legend":{"orient":"none","legendX":464,"legendY":169,"title":null,"fillColor":"white","strokeColor":"#e8161c","padding":15,"rowPadding":7.5,"symbolSize":400,"symbolStrokeWidth":2.8,"symbolOffset":11,"labelOffset":3,"labelFont":"Liberation Sans","labelFontWeight":"bold","labelFontSize":17,"labelColor":"black","encoding":{"legend":{"strokeWidth":{"value":8}}}}},
"stroke":{"field":"s","type":"nominal","scale":{"domain":["ICTs","ITTs","NCTs"],"range":["#1f35b5","#b3262a","#3a8c2c"]},"legend":{"orient":"none","legendX":464,"legendY":169,"title":null,"fillColor":"white","strokeColor":"#e8161c","padding":15,"rowPadding":7.5,"symbolSize":400,"symbolStrokeWidth":2.8,"symbolOffset":11,"labelOffset":3,"labelFont":"Liberation Sans","labelFontWeight":"bold","labelFontSize":17,"labelColor":"black","encoding":{"legend":{"strokeWidth":{"value":8}}}}},
"shape":{"field":"s","type":"nominal","scale":{"domain":["ICTs","ITTs","NCTs"],"range":["M-1.4,0H1.4M0,-0.8L0.85,0.65L-0.85,0.65Z","M-1.4,0H1.4M0.72,0A0.72,0.72,0,1,1,-0.72,0A0.72,0.72,0,1,1,0.72,0Z","M-1.4,0H1.4M-0.75,-0.75H0.75V0.75H-0.75Z"]},"legend":{"orient":"none","legendX":464,"legendY":169,"title":null,"fillColor":"white","strokeColor":"#e8161c","padding":15,"rowPadding":7.5,"symbolSize":400,"symbolStrokeWidth":2.8,"symbolOffset":11,"labelOffset":3,"labelFont":"Liberation Sans","labelFontWeight":"bold","labelFontSize":17,"labelColor":"black","encoding":{"legend":{"strokeWidth":{"value":8}}}}}}},
{"data":{"name":"bM"},"transform":[{"filter":"datum.s === 'ICTs'"}],"mark":{"type":"point","shape":"triangle-up","filled":true,"size":260,"color":"#0a1580","opacity":1}},
{"data":{"name":"bM"},"transform":[{"filter":"datum.s === 'ITTs'"}],"mark":{"type":"point","shape":"circle","filled":true,"size":200,"color":"#a00f0f","opacity":1}},
{"data":{"name":"bM"},"transform":[{"filter":"datum.s === 'NCTs'"}],"mark":{"type":"point","shape":"square","filled":true,"size":260,"color":"#6ad12a","opacity":1}}
]},
{"width":615,"height":45,"view":{"fill":"black","stroke":null},"data":{"values":[{"t":"Temprature of the Injured Area Over the Skin"}]},"mark":{"type":"text","color":"white","font":"Liberation Serif","fontSize":25.5,"dx":-28},"encoding":{"text":{"field":"t","type":"nominal"}}},
{"width":615,"height":456,"view":{"fill":"white","stroke":null},
"title":{"text":"D","orient":"bottom","anchor":"start","frame":"group","offset":-19,"dx":9,"baseline":"alphabetic","font":"Liberation Serif","fontSize":57,"fontWeight":"normal","color":"black"},
"encoding":{
"x":{"field":"i","type":"quantitative","scale":{"domain":[-0.51,4.5],"range":[38,463],"nice":false,"zero":false},"axis":{"offset":-70,"values":[0,1,2,3,4],"labelExpr":"['0','7','14','20','30'][datum.value]","grid":false,"ticks":false,"domainColor":"#222","labelFont":"Liberation Serif","labelFontSize":20,"labelColor":"black","labelPadding":3,"title":"Day after injury and surgical repair","titleFont":"Liberation Serif","titleFontSize":21,"titleFontWeight":"normal","titleColor":"black","titleX":240,"titleY":35,"titleAlign":"center","titleBaseline":"middle"}},
"y":{"field":"v","type":"quantitative","scale":{"domain":[0,35],"range":[386,55],"nice":false,"zero":false},"axis":{"offset":-38,"values":[0,5,10,15,20,25,30,35],"grid":true,"gridColor":{"condition":{"test":"datum.value === 20 || datum.value === 15 || datum.value === 10","value":"#000"},"value":"#555"},"ticks":false,"domainColor":"#222","labelFont":"Liberation Sans Narrow, Liberation Sans","labelFontSize":13,"labelColor":"black","labelPadding":10,"title":"Degree of Centigrade","titleFont":"Liberation Serif","titleFontSize":21,"titleFontWeight":"normal","titleColor":"black","titleAngle":0,"titleAlign":"left","titleBaseline":"middle","titleX":-28,"titleY":32}}},
"layer":[
{"data":{"name":"d"},"mark":{"type":"rule","color":"#222","strokeWidth":1},"encoding":{"y":{"field":"lo","type":"quantitative"},"y2":{"field":"hi"}}},
{"data":{"name":"d"},"mark":{"type":"tick","orient":"horizontal","size":7,"thickness":1,"color":"#222","opacity":1},"encoding":{"y":{"field":"lo","type":"quantitative"}}},
{"data":{"name":"d"},"mark":{"type":"tick","orient":"horizontal","size":7,"thickness":1,"color":"#222","opacity":1},"encoding":{"y":{"field":"hi","type":"quantitative"}}},
{"data":{"name":"d"},"transform":[{"filter":"datum.s === 'ITTs'"}],"mark":{"type":"line","strokeWidth":3,"color":"#b02a2a"}},
{"data":{"name":"d"},"transform":[{"filter":"datum.s === 'ICTs'"}],"mark":{"type":"line","strokeWidth":3,"color":"#1c30a8"}},
{"data":{"name":"dM"},"transform":[{"filter":"datum.v < -999"}],"mark":{"type":"point","filled":true,"opacity":1,"size":400,"strokeWidth":3},
"encoding":{
"fill":{"field":"s","type":"nominal","scale":{"domain":["ICTs","ITTs"],"range":["#0a1580","#a00f0f"]},"legend":{"orient":"none","legendX":463,"legendY":159,"title":null,"fillColor":"white","strokeColor":"#e8161c","padding":32,"rowPadding":11,"symbolSize":400,"symbolStrokeWidth":3,"symbolOffset":-10,"labelOffset":6,"labelFont":"Liberation Sans Narrow, Liberation Sans","labelFontWeight":"bold","labelFontSize":18,"labelColor":"black","encoding":{"legend":{"strokeWidth":{"value":8}}}}},
"stroke":{"field":"s","type":"nominal","scale":{"domain":["ICTs","ITTs"],"range":["#1c30a8","#b02a2a"]},"legend":{"orient":"none","legendX":463,"legendY":159,"title":null,"fillColor":"white","strokeColor":"#e8161c","padding":32,"rowPadding":11,"symbolSize":400,"symbolStrokeWidth":3,"symbolOffset":-10,"labelOffset":6,"labelFont":"Liberation Sans Narrow, Liberation Sans","labelFontWeight":"bold","labelFontSize":18,"labelColor":"black","encoding":{"legend":{"strokeWidth":{"value":8}}}}},
"shape":{"field":"s","type":"nominal","scale":{"domain":["ICTs","ITTs"],"range":["M-1.3,0H1.3M0,-0.8L0.9,0.65L-0.9,0.65Z","M-1.3,0H1.3M0.72,0A0.72,0.72,0,1,1,-0.72,0A0.72,0.72,0,1,1,0.72,0Z"]},"legend":{"orient":"none","legendX":463,"legendY":159,"title":null,"fillColor":"white","strokeColor":"#e8161c","padding":32,"rowPadding":11,"symbolSize":400,"symbolStrokeWidth":3,"symbolOffset":-10,"labelOffset":6,"labelFont":"Liberation Sans Narrow, Liberation Sans","labelFontWeight":"bold","labelFontSize":18,"labelColor":"black","encoding":{"legend":{"strokeWidth":{"value":8}}}}}}},
{"data":{"name":"dM"},"transform":[{"filter":"datum.s === 'ICTs'"}],"mark":{"type":"point","shape":"triangle-up","filled":true,"size":300,"color":"#0a1580","opacity":1}},
{"data":{"name":"dM"},"transform":[{"filter":"datum.s === 'ITTs'"}],"mark":{"type":"point","shape":"circle","filled":true,"size":190,"color":"#a00f0f","opacity":1}}
]},
{"width":615,"height":46,"view":{"fill":"black","stroke":null},"data":{"values":[{"t":"Water Delivery"}]},"mark":{"type":"text","color":"white","font":"Liberation Serif","fontSize":25.5,"dx":-6},"encoding":{"text":{"field":"t","type":"nominal"}}},
{"width":615,"height":455,"view":{"fill":"white","stroke":null},
"title":{"text":"F","orient":"bottom","anchor":"start","frame":"group","offset":-10,"dx":9,"baseline":"alphabetic","font":"Liberation Serif","fontSize":63,"fontWeight":"normal","color":"black"},
"encoding":{
"x":{"field":"i","type":"quantitative","scale":{"domain":[-0.5,14.5],"range":[35,506],"nice":false,"zero":false},"axis":{"offset":-60,"values":[0,1,2,3,4,5,6,7,8,9,10,11,12,13,14],"labelExpr":"['0','1','5','10','20','30','60','120','240','480','960','1920','3840','7680','15360'][datum.value]","grid":false,"ticks":false,"domainColor":"#111","labelFont":"Liberation Serif","labelFontSize":11,"labelColor":"black","labelPadding":9,"title":"Time (Minutes after air exposure)","titleFont":"Liberation Serif","titleFontSize":21,"titleFontWeight":"normal","titleColor":"black","titleX":250,"titleY":28,"titleAlign":"center","titleBaseline":"middle"}},
"y":{"field":"v","type":"quantitative","scale":{"domain":[0,120],"range":[395,39],"nice":false,"zero":false},"axis":{"offset":-35,"values":[0,20,40,60,80,100,120],"grid":true,"gridColor":"#555","ticks":false,"domainColor":"#111","labelFont":"Liberation Sans","labelFontSize":8,"labelColor":"#222","labelPadding":7,"title":null}}},
"layer":[
{"data":{"name":"f"},"mark":{"type":"rule","color":"#222","strokeWidth":1},"encoding":{"y":{"field":"lo","type":"quantitative"},"y2":{"field":"hi"}}},
{"data":{"name":"f"},"mark":{"type":"tick","orient":"horizontal","size":7,"thickness":1,"color":"#222","opacity":1},"encoding":{"y":{"field":"lo","type":"quantitative"}}},
{"data":{"name":"f"},"mark":{"type":"tick","orient":"horizontal","size":7,"thickness":1,"color":"#222","opacity":1},"encoding":{"y":{"field":"hi","type":"quantitative"}}},
{"data":{"name":"f"},"transform":[{"filter":"datum.s === 'CI'"}],"mark":{"type":"line","strokeWidth":2,"color":"#111111"}},
{"data":{"name":"f"},"transform":[{"filter":"datum.s === 'NCTs'"}],"mark":{"type":"line","strokeWidth":2,"color":"#3c9030"}},
{"data":{"name":"f"},"transform":[{"filter":"datum.s === 'ITTs'"}],"mark":{"type":"line","strokeWidth":2,"color":"#b02a2a"}},
{"data":{"name":"f"},"transform":[{"filter":"datum.s === 'ICTs'"}],"mark":{"type":"line","strokeWidth":2,"color":"#1c2a90"}},
{"data":{"name":"fM"},"transform":[{"filter":"datum.v < -999"}],"mark":{"type":"point","filled":true,"opacity":1,"size":256,"strokeWidth":2.5},
"encoding":{
"fill":{"field":"s","type":"nominal","scale":{"domain":["Dry Wieght","ICTs","ITTs","NCTs","CI"],"range":["#e624e6","#0a1580","#a00f0f","#72d42a","#000000"]},"legend":{"orient":"none","legendX":496,"legendY":158,"title":null,"fillColor":"white","strokeColor":"#e8161c","padding":6,"rowPadding":0,"symbolSize":256,"symbolStrokeWidth":2.2,"symbolOffset":25,"labelOffset":12,"labelFont":"Liberation Sans","labelFontWeight":"bold","labelFontSize":14,"labelColor":"black","labelExpr":"datum.value === 'Dry Wieght' ? ['Dry Wieght', '%'] : datum.label","encoding":{"legend":{"strokeWidth":{"value":8}},"labels":{"lineHeight":{"value":12},"font":{"condition":{"test":"datum.value === 'Dry Wieght'","value":"Liberation Serif"},"value":"Liberation Sans"},"fontWeight":{"condition":{"test":"datum.value === 'Dry Wieght'","value":"normal"},"value":"bold"},"fontSize":{"condition":{"test":"datum.value === 'Dry Wieght'","value":12},"value":14}}}}},
"stroke":{"field":"s","type":"nominal","scale":{"domain":["Dry Wieght","ICTs","ITTs","NCTs","CI"],"range":["#e624e6","#1c2a90","#b02a2a","#3c9030","#111111"]},"legend":{"orient":"none","legendX":496,"legendY":158,"title":null,"fillColor":"white","strokeColor":"#e8161c","padding":6,"rowPadding":0,"symbolSize":256,"symbolStrokeWidth":2.2,"symbolOffset":25,"labelOffset":12,"labelFont":"Liberation Sans","labelFontWeight":"bold","labelFontSize":14,"labelColor":"black","labelExpr":"datum.value === 'Dry Wieght' ? ['Dry Wieght', '%'] : datum.label","encoding":{"legend":{"strokeWidth":{"value":8}},"labels":{"lineHeight":{"value":12},"font":{"condition":{"test":"datum.value === 'Dry Wieght'","value":"Liberation Serif"},"value":"Liberation Sans"},"fontWeight":{"condition":{"test":"datum.value === 'Dry Wieght'","value":"normal"},"value":"bold"},"fontSize":{"condition":{"test":"datum.value === 'Dry Wieght'","value":12},"value":14}}}}},
"shape":{"field":"s","type":"nominal","scale":{"domain":["Dry Wieght","ICTs","ITTs","NCTs","CI"],"range":["M0.9,0L-0.8,-0.75L-0.35,0L-0.8,0.75Z","M-2.5,0H2.5M0,-0.9L1,0.72L-1,0.72Z","M-2.5,0H2.5M0.8,0A0.8,0.8,0,1,1,-0.8,0A0.8,0.8,0,1,1,0.8,0Z","M-2.5,0H2.5M-0.85,-0.85H0.85V0.85H-0.85Z","M-2.5,0H2.5M0,-0.85L0.13,-0.49L0.43,-0.74L0.36,-0.36L0.74,-0.43L0.49,-0.13L0.85,0L0.49,0.13L0.74,0.43L0.36,0.36L0.43,0.74L0.13,0.49L0,0.85L-0.13,0.49L-0.43,0.74L-0.36,0.36L-0.74,0.43L-0.49,0.13L-0.85,0L-0.49,-0.13L-0.74,-0.43L-0.36,-0.36L-0.43,-0.74L-0.13,-0.49Z"]},"legend":{"orient":"none","legendX":496,"legendY":158,"title":null,"fillColor":"white","strokeColor":"#e8161c","padding":6,"rowPadding":0,"symbolSize":256,"symbolStrokeWidth":2.2,"symbolOffset":25,"labelOffset":12,"labelFont":"Liberation Sans","labelFontWeight":"bold","labelFontSize":14,"labelColor":"black","labelExpr":"datum.value === 'Dry Wieght' ? ['Dry Wieght', '%'] : datum.label","encoding":{"legend":{"strokeWidth":{"value":8}},"labels":{"lineHeight":{"value":12},"font":{"condition":{"test":"datum.value === 'Dry Wieght'","value":"Liberation Serif"},"value":"Liberation Sans"},"fontWeight":{"condition":{"test":"datum.value === 'Dry Wieght'","value":"normal"},"value":"bold"},"fontSize":{"condition":{"test":"datum.value === 'Dry Wieght'","value":12},"value":14}}}}}}},
{"data":{"name":"fM"},"transform":[{"filter":"datum.s === 'ICTs'"}],"mark":{"type":"point","shape":"triangle-up","filled":true,"size":260,"color":"#0a1580","opacity":1}},
{"data":{"name":"fM"},"transform":[{"filter":"datum.s === 'ITTs'"}],"mark":{"type":"point","shape":"circle","filled":true,"size":170,"color":"#a00f0f","opacity":1}},
{"data":{"name":"fM"},"transform":[{"filter":"datum.s === 'NCTs'"}],"mark":{"type":"point","shape":"square","filled":true,"size":240,"color":"#72d42a","opacity":1}},
{"data":{"name":"fM"},"transform":[{"filter":"datum.s === 'CI'"}],"mark":{"type":"point","shape":"M0,-1L0.155,-0.58L0.5,-0.866L0.424,-0.424L0.866,-0.5L0.58,-0.155L1,0L0.58,0.155L0.866,0.5L0.424,0.424L0.5,0.866L0.155,0.58L0,1L-0.155,0.58L-0.5,0.866L-0.424,0.424L-0.866,0.5L-0.58,0.155L-1,0L-0.58,-0.155L-0.866,-0.5L-0.424,-0.424L-0.5,-0.866L-0.155,-0.58Z","filled":true,"size":140,"color":"#000000","opacity":1}},
{"data":{"name":"fP"},"mark":{"type":"point","shape":"M1,0L-0.9,-0.8L-0.4,0L-0.9,0.8Z","filled":true,"size":160,"color":"#e624e6","opacity":1}},
{"data":{"name":"fX"},"mark":{"type":"point","shape":"M-0.3,1H0.3V0H0.72L0,-1L-0.72,0H-0.3Z","filled":true,"size":484,"angle":180,"color":"#1a5fd8","opacity":1}},
{"data":{"name":"fT"},"mark":{"type":"text","align":"left","baseline":"middle","font":"Liberation Serif","fontSize":13,"color":"black"},"encoding":{"text":{"field":"t","type":"nominal"}}}
]}
]}
]
}
